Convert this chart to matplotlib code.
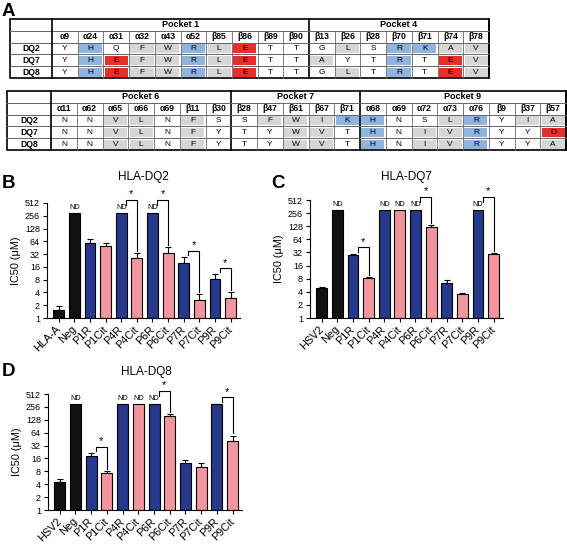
import matplotlib
matplotlib.use("Agg")
import matplotlib.pyplot as plt
from matplotlib.patches import Rectangle

plt.rcParams['font.family'] = ['Liberation Sans', 'DejaVu Sans']

W, H = 567, 546

# ---- panel A: pocket residues ----
alleles = ['DQ2', 'DQ7', 'DQ8']

pocket1_pos = ['α9', 'α24', 'α31', 'α32', 'α43', 'α52', 'β85', 'β86', 'β89', 'β90']
pocket1_res = {'DQ2': 'YHQFWRLETT', 'DQ7': 'YHEFWRLETT', 'DQ8': 'YHEFWRLETT'}
pocket1_fill = {'DQ2': 'wbwggbgrww', 'DQ7': 'wbrggbgrww', 'DQ8': 'wbrggbgrww'}

pocket4_pos = ['β13', 'β26', 'β28', 'β70', 'β71', 'β74', 'β78']
pocket4_res = {'DQ2': 'GLSRKAV', 'DQ7': 'AYTRTEV', 'DQ8': 'GLTRTEV'}
pocket4_fill = {'DQ2': 'wgwbbgg', 'DQ7': 'gwwbwrg', 'DQ8': 'wgwbwrg'}

pocket6_pos = ['α11', 'α62', 'α65', 'α66', 'α69', 'β11', 'β30']
pocket6_res = {'DQ2': 'NNVLNFS', 'DQ7': 'NNVLNFY', 'DQ8': 'NNVLNFY'}
pocket6_fill = {'DQ2': 'wwggwgw', 'DQ7': 'wwggwgw', 'DQ8': 'wwggwgw'}

pocket7_pos = ['β28', 'β47', 'β61', 'β67', 'β71']
pocket7_res = {'DQ2': 'SFWIK', 'DQ7': 'TYWVT', 'DQ8': 'TYWVT'}
pocket7_fill = {'DQ2': 'wgggb', 'DQ7': 'wwggw', 'DQ8': 'wwggw'}

pocket9_pos = ['α68', 'α69', 'α72', 'α73', 'α76', 'β9', 'β37', 'β57']
pocket9_res = {'DQ2': 'HNSLRYIA', 'DQ7': 'HNIVRYYD', 'DQ8': 'HNIVRYYA'}
pocket9_fill = {'DQ2': 'bwwgbwgg', 'DQ7': 'bwggbwwr', 'DQ8': 'bwggbwwg'}

cell_colors = {'w': 'white', 'g': '#d6d6d6', 'b': '#8fb4e0', 'r': '#e5302a'}

# ---- panels B-D: IC50 (uM) ----
bar_labels_b = ['HLA-A', 'Neg', 'P1R', 'P1Cit', 'P4R', 'P4Cit', 'P6R', 'P6Cit',
                'P7R', 'P7Cit', 'P9R', 'P9Cit']
bar_labels_cd = ['HSV2', 'Neg', 'P1R', 'P1Cit', 'P4R', 'P4Cit', 'P6R', 'P6Cit',
                 'P7R', 'P7Cit', 'P9R', 'P9Cit']

dq2_ic50 = [1.57, 300, 57, 50, 300, 26, 300, 34, 20, 2.7, 8.5, 3.0]
dq2_err = [0.33, 0, 15, 9, 0, 8, 0, 12, 7, 0.9, 2.1, 1.0]
dq2_nd = [1, 4, 6]
dq2_sig = [(4, 5), (6, 7), (8, 9), (10, 11)]

dq7_ic50 = [5.0, 300, 27.8, 8.5, 300, 300, 300, 125, 6.2, 3.5, 300, 29]
dq7_err = [0.2, 0, 2, 0.3, 0, 0, 0, 9, 1.4, 0.3, 0, 2]
dq7_nd = [1, 4, 5, 6, 10]
dq7_sig = [(2, 3), (6, 7), (10, 11)]

dq8_ic50 = [4.4, 300, 18.5, 7.2, 300, 300, 300, 153, 12.3, 10, 292, 40.8]
dq8_err = [0.8, 0, 3.2, 0.9, 0, 0, 0, 24, 2.1, 2.3, 12, 14]
dq8_nd = [1, 4, 5, 6]
dq8_sig = [(2, 3), (6, 7), (10, 11)]

bar_colors = ['#111111', '#111111'] + ['#26398a', '#f3959e'] * 5
y_ticks = [1, 2, 4, 8, 16, 32, 64, 128, 256, 512]


def draw_table(ax, x0, y0, pockets, label_w, col_w=25.75, row_h=11.8):
    ncol = sum(len(p[1]) for p in pockets)
    x1 = x0 + label_w + ncol * col_w
    y1 = y0 + 5 * row_h
    cx = x0 + label_w
    for name, pos, res, fill in pockets:
        n = len(pos)
        ax.text(cx + n * col_w / 2, y0 + row_h / 2, name, ha='center', va='center',
                fontsize=6.5, fontweight='bold')
        for j, p in enumerate(pos):
            xc = cx + (j + 0.5) * col_w
            ax.text(xc, y0 + 1.5 * row_h, p, ha='center', va='center',
                    fontsize=6.2, fontweight='bold')
            for i, a in enumerate(alleles):
                yt = y0 + (2 + i) * row_h
                ax.add_patch(Rectangle((cx + j * col_w + 1.3, yt + 1.3), col_w - 2.6,
                                       row_h - 2.6, fc=cell_colors[fill[a][j]], ec='none'))
                ax.text(xc, yt + row_h / 2, res[a][j], ha='center', va='center', fontsize=6)
        for j in range(1, n):
            ax.plot([cx + j * col_w] * 2, [y0 + row_h, y1], color='#666666', lw=0.6)
        cx += n * col_w
        ax.plot([cx, cx], [y0, y1], color='black', lw=1.2)
    for k in range(1, 5):
        ax.plot([x0, x1], [y0 + k * row_h] * 2, color='#666666', lw=0.7)
    for i, a in enumerate(alleles):
        ax.text(x0 + label_w / 2, y0 + (2.5 + i) * row_h, a, ha='center', va='center',
                fontsize=6.2, fontweight='bold')
    ax.plot([x0 + label_w] * 2, [y0, y1], color='black', lw=1.2)
    ax.add_patch(Rectangle((x0, y0), x1 - x0, y1 - y0, fc='none', ec='black', lw=1.2))


def px_axes(fig, x0, y0, x1, y1):
    return fig.add_axes([x0 / W, 1 - y1 / H, (x1 - x0) / W, (y1 - y0) / H])


def draw_bars(ax, labels, means, errs, nd, pairs):
    x = list(range(len(means)))
    ax.bar(x, [m - 1 for m in means], bottom=1, width=0.7, color=bar_colors,
           edgecolor='black', linewidth=0.8, zorder=2)
    ex = [i for i in x if errs[i] > 0]
    ax.errorbar(ex, [means[i] for i in ex], yerr=[[0] * len(ex), [errs[i] for i in ex]],
                fmt='none', ecolor='black', elinewidth=0.8, capsize=2, capthick=0.8, zorder=1)
    for i in nd:
        ax.annotate('ND', (i, means[i]), xytext=(0, 1.5), textcoords='offset points',
                    ha='center', va='bottom', fontsize=5.2, annotation_clip=False)
    for a, b in pairs:
        top_a = means[a] + errs[a]
        y = 600 if a in nd else top_a * 1.4
        yl = 450 if a in nd else y / 1.25
        yr = (means[b] + errs[b]) * 1.12
        ax.plot([a + 0.3, a + 0.3, b, b], [yl, y, y, yr], color='black', lw=0.8,
                clip_on=False)
        ax.annotate('*', ((a + 0.3 + b) / 2, y), xytext=(0, 0.5), textcoords='offset points',
                    ha='center', va='bottom', fontsize=8, annotation_clip=False)
    ax.set_yscale('log', base=2)
    ax.set_ylim(1, 512)
    ax.set_yticks(y_ticks)
    ax.set_yticklabels([str(t) for t in y_ticks])
    ax.minorticks_off()
    ax.set_xlim(-0.75, len(means) - 0.4)
    ax.set_xticks(x)
    ax.set_xticklabels(labels, rotation=45, ha='right', va='center',
                       rotation_mode='anchor')
    ax.tick_params(axis='both', direction='out', length=3, width=0.8, labelsize=6.5, pad=2)
    ax.tick_params(axis='x', pad=4, labelsize=7.8)
    for s in ['top', 'right']:
        ax.spines[s].set_visible(False)
    for s in ['left', 'bottom']:
        ax.spines[s].set_linewidth(0.8)
    ax.set_ylabel('IC50 (μM)', fontsize=7.8, labelpad=3)
    ax.patch.set_alpha(0)


fig = plt.figure(figsize=(W / 100, H / 100), dpi=100)
base = fig.add_axes([0, 0, 1, 1])
base.set_xlim(0, W)
base.set_ylim(H, 0)
base.axis('off')

draw_table(base, 10, 19,
           [('Pocket 1', pocket1_pos, pocket1_res, pocket1_fill),
            ('Pocket 4', pocket4_pos, pocket4_res, pocket4_fill)], label_w=42, col_w=25.7)
draw_table(base, 7, 91,
           [('Pocket 6', pocket6_pos, pocket6_res, pocket6_fill),
            ('Pocket 7', pocket7_pos, pocket7_res, pocket7_fill),
            ('Pocket 9', pocket9_pos, pocket9_res, pocket9_fill)], label_w=44)

# panel letters and titles
for letter, (lx, ly) in {'A': (2, 11), 'B': (2, 183), 'C': (271, 183), 'D': (2, 372)}.items():
    base.text(lx, ly, letter, fontsize=13.5, fontweight='bold', ha='left', va='center')
base.text(143, 177, 'HLA-DQ2', fontsize=8.5, ha='center', va='center')
base.text(406, 177, 'HLA-DQ7', fontsize=8.5, ha='center', va='center')
base.text(146, 372, 'HLA-DQ8', fontsize=8.5, ha='center', va='center')

ax_b = px_axes(fig, 47, 203, 240, 318)
draw_bars(ax_b, bar_labels_b, dq2_ic50, dq2_err, dq2_nd, dq2_sig)
ax_c = px_axes(fig, 310, 200, 503, 318)
draw_bars(ax_c, bar_labels_cd, dq7_ic50, dq7_err, dq7_nd, dq7_sig)
ax_d = px_axes(fig, 48, 394, 242, 510)
draw_bars(ax_d, bar_labels_cd, dq8_ic50, dq8_err, dq8_nd, dq8_sig)

fig.savefig('out.png', dpi=100)
